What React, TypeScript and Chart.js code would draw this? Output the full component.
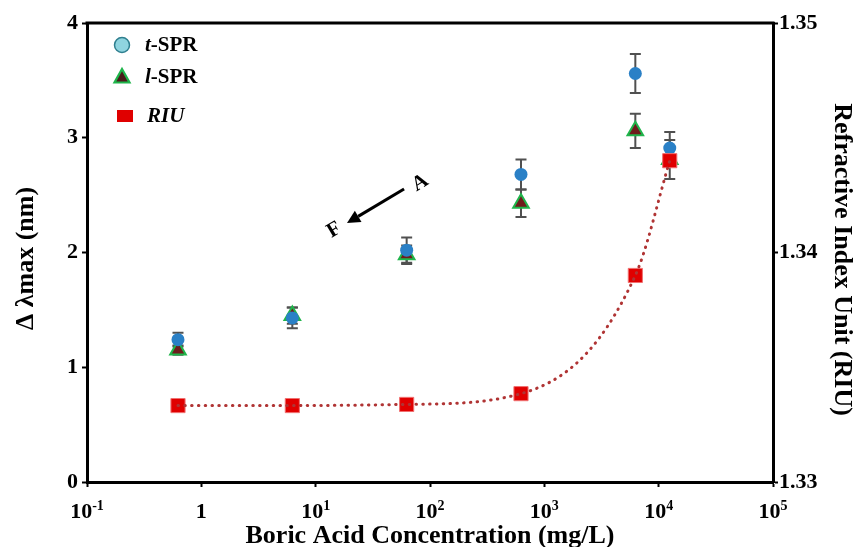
import React, { useEffect, useRef } from 'react';
import { Chart, registerables } from 'chart.js';

Chart.register(...registerables);

// ---------------- data ----------------
const concentrations = [0.625, 6.25, 62.5, 625, 6250, 12500];
const tSPR = [1.24, 1.43, 2.02, 2.68, 3.56, 2.91];
const tSPRErr = [0.06, 0.09, 0.11, 0.13, 0.17, 0.14];
const lSPR = [1.15, 1.45, 1.98, 2.43, 3.06, 2.81];
const lSPRErr = [0.04, 0.07, 0.08, 0.12, 0.15, 0.17];
const riu = [1.33333, 1.33333, 1.33338, 1.33385, 1.339, 1.344];

const xTickValues = [0.1, 1, 10, 100, 1000, 10000, 100000];
const xTickBase = ['10', '1', '10', '10', '10', '10', '10'];
const xTickExp = ['-1', '', '1', '2', '3', '4', '5'];

const xTitle = 'Boric Acid Concentration (mg/L)';
const yTitle = 'Δ λmax (nm)';
const y1Title = 'Refractive Index Unit (RIU)';

const arrowFrom = { x: 59.3, y: 2.553 };
const arrowTo = { x: 18.8, y: 2.257 };
const arrowLabels = [
  { text: 'A', x: 82, y: 2.606 },
  { text: 'F', x: 14.5, y: 2.196 },
];

const FONT = '"Liberation Serif", "Times New Roman", serif';

const toXY = (xs: number[], ys: number[]) => xs.map((x, i) => ({ x, y: ys[i] }));

const customPlugin = {
  id: 'customDecor',
  beforeDatasetsDraw(chart: any) {
    const ctx = chart.ctx;
    const xs = chart.scales.x;
    const ys = chart.scales.y;
    const draw = (vals: number[], errs: number[]) => {
      ctx.save();
      ctx.strokeStyle = '#505050';
      ctx.lineWidth = 2;
      vals.forEach((v, i) => {
        const px = xs.getPixelForValue(concentrations[i]);
        const top = ys.getPixelForValue(v + errs[i]);
        const bot = ys.getPixelForValue(v - errs[i]);
        ctx.beginPath();
        ctx.moveTo(px, top);
        ctx.lineTo(px, bot);
        ctx.moveTo(px - 5.5, top);
        ctx.lineTo(px + 5.5, top);
        ctx.moveTo(px - 5.5, bot);
        ctx.lineTo(px + 5.5, bot);
        ctx.stroke();
      });
      ctx.restore();
    };
    draw(lSPR, lSPRErr);
    draw(tSPR, tSPRErr);
  },
  afterDraw(chart: any) {
    const ctx = chart.ctx;
    const area = chart.chartArea;
    const xs = chart.scales.x;
    const ys = chart.scales.y;
    ctx.save();
    // top frame
    ctx.strokeStyle = '#000';
    ctx.lineWidth = 3;
    ctx.beginPath();
    ctx.moveTo(area.left - 1.5, area.top);
    ctx.lineTo(area.right + 1.5, area.top);
    ctx.stroke();

    // x tick labels with superscripts
    ctx.fillStyle = '#000';
    ctx.textBaseline = 'alphabetic';
    xTickValues.forEach((v, i) => {
      const px = xs.getPixelForValue(v);
      ctx.font = `bold 22px ${FONT}`;
      const bw = ctx.measureText(xTickBase[i]).width;
      ctx.font = `bold 14px ${FONT}`;
      const ew = xTickExp[i] ? ctx.measureText(xTickExp[i]).width : 0;
      const start = px - (bw + ew) / 2;
      const base = area.bottom + 36;
      ctx.font = `bold 22px ${FONT}`;
      ctx.textAlign = 'left';
      ctx.fillText(xTickBase[i], start, base);
      if (xTickExp[i]) {
        ctx.font = `bold 14px ${FONT}`;
        ctx.fillText(xTickExp[i], start + bw, base - 8);
      }
    });

    // axis titles
    ctx.font = `bold 26px ${FONT}`;
    ctx.textAlign = 'center';
    ctx.textBaseline = 'alphabetic';
    ctx.fillText(xTitle, (area.left + area.right) / 2, area.bottom + 61);

    ctx.save();
    ctx.translate(26, (area.top + area.bottom) / 2 + 6);
    ctx.rotate(-Math.PI / 2);
    ctx.textBaseline = 'middle';
    ctx.fillText(yTitle, 0, 0);
    ctx.restore();

    ctx.save();
    ctx.translate(area.right + 69, (area.top + area.bottom) / 2 + 7);
    ctx.rotate(Math.PI / 2);
    ctx.textBaseline = 'middle';
    ctx.fillText(y1Title, 0, 0);
    ctx.restore();

    // legend
    const lx = area.left + 35;
    const ly = area.top + 22;
    ctx.textBaseline = 'middle';
    ctx.textAlign = 'left';
    ctx.beginPath();
    ctx.arc(lx, ly, 7.5, 0, Math.PI * 2);
    ctx.fillStyle = '#8fd4df';
    ctx.fill();
    ctx.lineWidth = 1.5;
    ctx.strokeStyle = '#2f7f8f';
    ctx.stroke();
    const ty = ly + 32;
    ctx.beginPath();
    ctx.moveTo(lx, ty - 8);
    ctx.lineTo(lx + 7.5, ty + 5.5);
    ctx.lineTo(lx - 7.5, ty + 5.5);
    ctx.closePath();
    ctx.fillStyle = '#4a1a1a';
    ctx.fill();
    ctx.lineWidth = 2.2;
    ctx.strokeStyle = '#1fb54b';
    ctx.stroke();
    const sy = ly + 71;
    ctx.fillStyle = '#e00000';
    ctx.fillRect(lx - 5, sy - 6, 16, 12);

    const textX = lx + 23;
    const drawMixed = (parts: [string, boolean][], x: number, y: number) => {
      let cx = x;
      parts.forEach(([t, it]) => {
        ctx.font = `${it ? 'italic ' : ''}bold 21px ${FONT}`;
        ctx.fillStyle = '#000';
        ctx.fillText(t, cx, y);
        cx += ctx.measureText(t).width;
      });
    };
    drawMixed([['t', true], ['-SPR', false]], textX, ly + 1);
    drawMixed([['l', true], ['-SPR', false]], textX, ty + 1);
    drawMixed([['RIU', true]], textX + 2, sy + 1);

    // arrow annotation
    const x0 = xs.getPixelForValue(arrowFrom.x);
    const y0 = ys.getPixelForValue(arrowFrom.y);
    const x1 = xs.getPixelForValue(arrowTo.x);
    const y1 = ys.getPixelForValue(arrowTo.y);
    const ang = Math.atan2(y1 - y0, x1 - x0);
    const hl = 13;
    const hw = 6.5;
    const bx = x1 - hl * Math.cos(ang);
    const by = y1 - hl * Math.sin(ang);
    ctx.strokeStyle = '#000';
    ctx.lineWidth = 3;
    ctx.beginPath();
    ctx.moveTo(x0, y0);
    ctx.lineTo(bx, by);
    ctx.stroke();
    ctx.beginPath();
    ctx.moveTo(x1, y1);
    ctx.lineTo(bx + hw * Math.sin(ang), by - hw * Math.cos(ang));
    ctx.lineTo(bx - hw * Math.sin(ang), by + hw * Math.cos(ang));
    ctx.closePath();
    ctx.fillStyle = '#000';
    ctx.fill();

    const rot = Math.atan2(y0 - y1, x0 - x1);
    ctx.font = `bold 21px ${FONT}`;
    ctx.textAlign = 'center';
    ctx.textBaseline = 'middle';
    arrowLabels.forEach((l) => {
      ctx.save();
      ctx.translate(xs.getPixelForValue(l.x), ys.getPixelForValue(l.y));
      ctx.rotate(rot);
      ctx.fillText(l.text, 0, 0);
      ctx.restore();
    });

    ctx.restore();
  },
};

export default function App() {
  const canvasRef = useRef<HTMLCanvasElement | null>(null);

  useEffect(() => {
    document.body.style.margin = '0';
    const canvas = canvasRef.current;
    if (!canvas) return;
    const chart = new Chart(canvas, {
      type: 'scatter',
      data: {
        datasets: [
          {
            label: 'RIU fit',
            data: toXY(concentrations, riu),
            yAxisID: 'y1',
            showLine: true,
            pointRadius: 0,
            borderColor: '#b03434',
            borderWidth: 3,
            borderDash: [0.5, 6.3],
            borderCapStyle: 'round',
            cubicInterpolationMode: 'monotone',
            order: 0,
          } as any,
          {
            label: 'RIU',
            data: toXY(concentrations, riu),
            yAxisID: 'y1',
            pointStyle: 'rect',
            pointRadius: 10,
            backgroundColor: '#e00000',
            borderColor: '#f07070',
            borderWidth: 1,
            order: 1,
          },
          {
            label: 't-SPR',
            data: toXY(concentrations, tSPR),
            yAxisID: 'y',
            pointStyle: 'circle',
            pointRadius: 6.5,
            backgroundColor: '#2a80c6',
            borderColor: '#2a80c6',
            borderWidth: 0,
            order: 2,
          },
          {
            label: 'l-SPR',
            data: toXY(concentrations, lSPR),
            yAxisID: 'y',
            pointStyle: 'triangle',
            pointRadius: 9,
            backgroundColor: '#6e1c1c',
            borderColor: '#1fb54b',
            borderWidth: 2,
            order: 3,
          },
        ],
      },
      options: {
        animation: false,
        responsive: false,
        devicePixelRatio: 1,
        layout: { padding: { top: 23, left: 0, right: 0, bottom: 0 } },
        plugins: {
          legend: { display: false },
          tooltip: { enabled: false },
        },
        scales: {
          x: {
            type: 'logarithmic',
            min: 0.1,
            max: 100000,
            afterBuildTicks: (scale: any) => {
              scale.ticks = xTickValues.map((v) => ({ value: v, major: true }));
            },
            afterFit: (scale: any) => {
              scale.height = 65;
            },
            ticks: { callback: () => '', font: { size: 1 } },
            grid: {
              drawOnChartArea: false,
              drawTicks: true,
              tickLength: 5,
              tickWidth: 2,
              color: '#000',
            },
            border: { display: true, width: 3, color: '#000' },
          },
          y: {
            position: 'left',
            min: 0,
            max: 4,
            afterFit: (scale: any) => {
              scale.width = 87;
            },
            ticks: {
              stepSize: 1,
              color: '#000',
              padding: 4,
              font: { family: FONT, size: 22, weight: 'bold' },
            },
            grid: {
              drawOnChartArea: false,
              drawTicks: true,
              tickLength: 5,
              tickWidth: 2,
              color: '#000',
            },
            border: { display: true, width: 3, color: '#000' },
          },
          y1: {
            position: 'right',
            min: 1.33,
            max: 1.35,
            afterFit: (scale: any) => {
              scale.width = 82;
            },
            ticks: {
              stepSize: 0.01,
              color: '#000',
              padding: 1,
              font: { family: FONT, size: 22, weight: 'bold' },
              callback: (v: any) => Number(v).toFixed(2),
            },
            grid: {
              drawOnChartArea: false,
              drawTicks: true,
              tickLength: 5,
              tickWidth: 2,
              color: '#000',
            },
            border: { display: true, width: 3, color: '#000' },
          },
        },
      } as any,
      plugins: [customPlugin],
    });
    return () => chart.destroy();
  }, []);

  return (
    <div style={{ width: 855, height: 547, background: '#fff' }}>
      <canvas ref={canvasRef} width={855} height={547} style={{ display: 'block' }} />
    </div>
  );
}
